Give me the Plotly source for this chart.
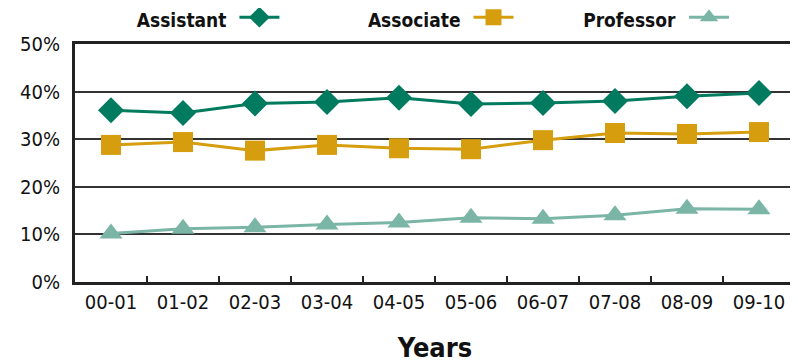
import plotly.graph_objects as go

years = ['00-01', '01-02', '02-03', '03-04', '04-05', '05-06', '06-07', '07-08', '08-09', '09-10']
assistant = [36.1, 35.5, 37.5, 37.8, 38.7, 37.4, 37.6, 38.0, 39.0, 39.7]
associate = [28.8, 29.4, 27.6, 28.8, 28.1, 27.9, 29.8, 31.3, 31.1, 31.5]
professor = [10.2, 11.2, 11.5, 12.1, 12.5, 13.5, 13.3, 14.0, 15.4, 15.3]
y_ticks = [0, 10, 20, 30, 40, 50]
y_labels = ['0%', '10%', '20%', '30%', '40%', '50%']

FONT = "DejaVu Sans Condensed, Liberation Sans Narrow, sans-serif"

# page body has an 8px margin, so the figure is offset by 8px
series = [
    ('Assistant', assistant, '#007B5F', 'diamond', 20, 'legend', 0.083),
    ('Associate', associate, '#D69E0E', 'square', 20, 'legend2', 0.404),
    ('Professor', professor, '#7AB5A6', 'triangle-up', 20, 'legend3', 0.703),
]

fig = go.Figure()
for name, vals, color, sym, size, leg, lx in series:
    fig.add_trace(go.Scatter(
        x=years, y=vals, mode='lines+markers', name=' ',
        line=dict(color=color, width=3),
        marker=dict(symbol=sym, size=size, color=color),
        legend=leg, showlegend=True,
    ))
    fig.update_layout({leg: dict(
        title=dict(text='<b>' + name + '</b>', side='left',
                   font=dict(family=FONT, size=19, color='#111')),
        orientation='h', x=lx, xanchor='left', y=1.10, yanchor='middle',
        bgcolor='rgba(0,0,0,0)', itemwidth=40,
        font=dict(family=FONT, size=4),
    )})

fig.update_layout(
    width=798, height=362,
    margin=dict(l=67, r=11, t=36, b=88, autoexpand=False),
    plot_bgcolor='white', paper_bgcolor='white',
    font=dict(family=FONT, size=20, color='#111'),
    xaxis=dict(
        type='category', range=[-0.5, 9.5],
        tickson='boundaries', ticks='inside', ticklen=6, tickwidth=2, tickcolor='#222',
        showline=True, linecolor='#222', linewidth=3, mirror=True,
        showgrid=False,
        title=dict(text='<b>Years</b>', font=dict(family=FONT, size=27), standoff=26),
        tickfont=dict(family=FONT, size=20),
    ),
    yaxis=dict(
        range=[0, 50], tickvals=y_ticks, ticktext=y_labels,
        showline=True, linecolor='#222', linewidth=3, mirror=True,
        showgrid=True, gridcolor='#333', gridwidth=1.5,
        zeroline=False, ticks='', ticklabelstandoff=8,
        tickfont=dict(family=FONT, size=20),
    ),
)

fig.write_html("out.html")
